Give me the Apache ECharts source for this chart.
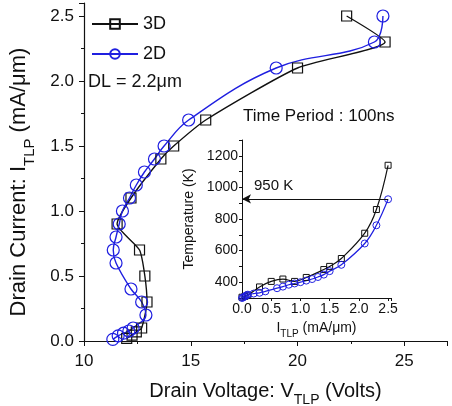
<!DOCTYPE html>
<html><head><meta charset="utf-8">
<script src="https://cdn.jsdelivr.net/npm/echarts@6/dist/echarts.min.js"></script>
<style>html,body{margin:0;padding:0;background:#fff}#c{width:452px;height:406px}</style>
</head><body><div id="c"></div>
<script>
// Main plot: Drain Voltage (V) vs Drain Current (mA/um)
const main3D = [[12.0,0.02],[12.25,0.045],[12.45,0.07],[12.7,0.1],[12.95,0.3],[12.85,0.5],[12.6,0.7],[11.55,0.9],[12.2,1.1],[13.6,1.4],[14.2,1.5],[15.7,1.7],[20.0,2.1],[24.1,2.3],[22.3,2.5]];
const main2D = [[11.35,0.013],[11.6,0.04],[11.85,0.06],[12.1,0.077],[12.3,0.1],[12.9,0.2],[12.7,0.3],[12.2,0.4],[11.5,0.6],[11.37,0.7],[11.5,0.8],[11.65,0.9],[11.8,1.0],[12.13,1.1],[12.45,1.2],[12.83,1.3],[13.3,1.4],[13.75,1.5],[14.9,1.7],[19.0,2.1],[23.6,2.3],[24.0,2.5]];
// Inset: current (mA/um) vs temperature (K)
const inset3D = [[0,305],[0.05,310],[0.1,318],[0.3,370],[0.5,405],[0.7,420],[0.9,405],[1.1,430],[1.4,480],[1.5,500],[1.7,550],[2.1,710],[2.3,860],[2.5,1140]];
const inset2D = [[0,300],[0.02,304],[0.04,308],[0.06,313],[0.08,317],[0.1,321],[0.2,328],[0.3,333],[0.4,342],[0.6,362],[0.7,372],[0.8,384],[0.9,392],[1.0,400],[1.1,410],[1.2,420],[1.3,433],[1.4,448],[1.5,470],[1.7,510],[2.1,645],[2.3,760],[2.5,925]];
const markTemp = 927;
const seriesNames = ['3D','2D'];

const FONT = '"Liberation Sans", Arial, sans-serif';
const BLACK = '#111';
const BLUE = '#1f1fe0';
const chart = echarts.init(document.getElementById('c'));
chart.setOption({
  animation: false,
  textStyle: {fontFamily: FONT, color: BLACK},
  legend: {
    left: 86, top: 10, orient: 'vertical', itemWidth: 46, itemHeight: 12, itemGap: 12,
    textStyle: {fontSize: 18, fontFamily: FONT, color: BLACK},
    data: seriesNames
  },
  grid: [
    {left: 84, right: 5, top: 3, bottom: 65, outerBoundsMode: 'none', containLabel: false},
    {left: 242, right: 61, top: 140, bottom: 108, outerBoundsMode: 'none', containLabel: false}
  ],
  xAxis: [
    {gridIndex: 0, type: 'value', min: 10, max: 27, interval: 5,
     axisLine: {lineStyle: {color: BLACK, width: 1.2}},
     axisTick: {length: 5, lineStyle: {color: BLACK}},
     minorTick: {show: true, splitNumber: 2, length: 3, lineStyle: {color: BLACK}},
     splitLine: {show: false},
     axisLabel: {fontSize: 17, color: BLACK, fontFamily: FONT, margin: 12,
       formatter: v => (v % 5 === 0 ? String(v) : '')},
     name: '{n|Drain Voltage: V}{s|TLP}{n| (Volts)}', nameLocation: 'middle', nameGap: 37,
     nameTextStyle: {rich: {
       n: {fontSize: 20, fontFamily: FONT, color: BLACK, verticalAlign: 'bottom', lineHeight: 23},
       s: {fontSize: 14, fontFamily: FONT, color: BLACK, verticalAlign: 'bottom', lineHeight: 23, padding: [0,0,-6,0]}
     }}
    },
    {gridIndex: 1, type: 'value', min: 0, max: 2.55, interval: 0.5,
     axisLine: {lineStyle: {color: BLACK, width: 1}},
     axisTick: {length: 3, lineStyle: {color: BLACK}},
     splitLine: {show: false},
     axisLabel: {fontSize: 14, color: BLACK, fontFamily: FONT, margin: 4,
       formatter: v => (Math.abs(v*2 - Math.round(v*2)) < 1e-6 ? v.toFixed(1) : '')},
     name: '{n|I}{s|TLP}{n| (mA/μm)}', nameLocation: 'middle', nameGap: 20,
     nameTextStyle: {rich: {
       n: {fontSize: 14, fontFamily: FONT, color: BLACK, verticalAlign: 'bottom', lineHeight: 17},
       s: {fontSize: 10, fontFamily: FONT, color: BLACK, verticalAlign: 'bottom', lineHeight: 17, padding: [0,0,-4,0]}
     }}
    }
  ],
  yAxis: [
    {gridIndex: 0, type: 'value', min: 0, max: 2.6, interval: 0.5,
     axisLine: {show: true, lineStyle: {color: BLACK, width: 1.2}},
     axisTick: {show: true, length: 5, lineStyle: {color: BLACK}},
     minorTick: {show: true, splitNumber: 2, length: 3, lineStyle: {color: BLACK}},
     splitLine: {show: false},
     axisLabel: {fontSize: 17, color: BLACK, fontFamily: FONT, margin: 10,
       formatter: v => (Math.abs(v*2 - Math.round(v*2)) < 1e-6 ? v.toFixed(1) : '')},
     name: '{n|Drain Current: I}{s|TLP}{n| (mA/μm)}', nameLocation: 'middle', nameGap: 54,
     nameTextStyle: {padding: [0, 20, 0, 0], rich: {
       n: {fontSize: 22, fontFamily: FONT, color: BLACK, verticalAlign: 'bottom', lineHeight: 25},
       s: {fontSize: 15, fontFamily: FONT, color: BLACK, verticalAlign: 'bottom', lineHeight: 25, padding: [0,0,-7,0]}
     }}
    },
    {gridIndex: 1, type: 'value', min: 300, max: 1300, interval: 100,
     axisLine: {show: true, lineStyle: {color: BLACK, width: 1}},
     axisTick: {show: true, length: 3, lineStyle: {color: BLACK}},
     splitLine: {show: false},
     axisLabel: {fontSize: 14, color: BLACK, fontFamily: FONT, margin: 4,
       formatter: v => (v % 200 === 0 && v >= 400 && v <= 1200 ? String(v) : '')},
     name: 'Temperature (K)', nameLocation: 'middle', nameGap: 46,
     nameTextStyle: {fontSize: 14, fontFamily: FONT, color: BLACK}
    }
  ],
  graphic: [
    {type: 'text', left: 88, top: 73, style: {text: 'DL = 2.2μm', font: '18px ' + FONT, fill: BLACK}},
    {type: 'text', left: 243, top: 108, style: {text: 'Time Period : 100ns', font: '17px ' + FONT, fill: BLACK}}
  ],
  series: [
    {name: '3D', type: 'line', xAxisIndex: 0, yAxisIndex: 0, data: main3D, smooth: 0.2,
     symbol: 'rect', symbolSize: 10,
     lineStyle: {color: BLACK, width: 1.4},
     itemStyle: {color: 'rgba(255,255,255,0)', borderColor: BLACK, borderWidth: 1.2}},
    {name: '2D', type: 'line', xAxisIndex: 0, yAxisIndex: 0, data: main2D, smooth: 0.4,
     symbol: 'circle', symbolSize: 12,
     lineStyle: {color: BLUE, width: 1.4},
     itemStyle: {color: 'rgba(255,255,255,0)', borderColor: BLUE, borderWidth: 1.2}},
    {name: '3D', type: 'line', xAxisIndex: 1, yAxisIndex: 1, data: inset3D, smooth: 0.4,
     symbol: 'rect', symbolSize: 6,
     lineStyle: {color: BLACK, width: 1.2},
     itemStyle: {color: 'rgba(255,255,255,0)', borderColor: BLACK, borderWidth: 1}},
    {name: '2D', type: 'line', xAxisIndex: 1, yAxisIndex: 1, data: inset2D, smooth: 0.4,
     symbol: 'circle', symbolSize: 7,
     lineStyle: {color: BLUE, width: 1.2},
     itemStyle: {color: 'rgba(255,255,255,0)', borderColor: BLUE, borderWidth: 1},
     markLine: {silent: true, symbol: ['arrow','none'], symbolSize: [7, 9],
       lineStyle: {color: BLACK, width: 1, type: 'solid'},
       label: {show: true, position: 'insideStartTop', formatter: '950 K', fontSize: 15, color: BLACK, fontFamily: FONT, distance: [12, 6]},
       data: [[{coord: [0, markTemp]}, {coord: [2.5, markTemp]}]]}
    }
  ]
});
</script></body></html>
